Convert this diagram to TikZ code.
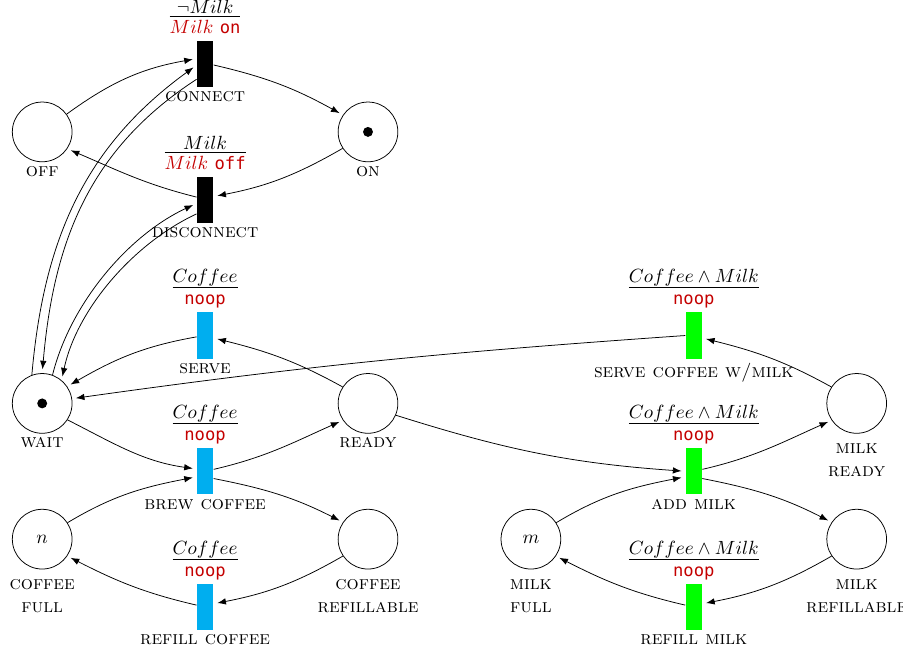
\documentclass[tikz,border=0pt]{standalone}
\usepackage{amsmath}
\usepackage{fontspec}
\setmonofont[Scale=0.9]{DejaVu Sans Mono}
\usetikzlibrary{arrows.meta,positioning}

\definecolor{actred}{RGB}{196,0,0}
\definecolor{coffeeblue}{RGB}{0,174,239}
\definecolor{milkgreen}{RGB}{0,255,0}

% guard over action
\newcommand{\guard}[2]{$\frac{\textstyle #1}{\textstyle\strut\textcolor{actred}{#2}}$}

\tikzset{
  place/.style={circle,draw,minimum size=1.1cm,inner sep=0pt},
  tokened/.style={path picture={\fill (path picture bounding box.center) circle (2.6pt);}},
  transition/.style={rectangle,minimum width=0.3cm,minimum height=0.85cm,inner sep=0pt},
  every label/.style={align=center,inner sep=2pt},
  guardlabel/.style={inner sep=0pt},
  flow/.style={-{Latex[length=4.5pt,width=3.4pt]},shorten >=2pt}
}

\begin{document}
\begin{tikzpicture}
\useasboundingbox (-0.777,1.179) rectangle (15.853,-10.81);

%% places
\node[place,label={below:\textsc{off}}] (off) at (0,-1.25) {};
\node[place,tokened,label={below:\textsc{on}}] (on) at (6,-1.25) {};
\node[place,tokened,label={below:\textsc{wait}}] (wait) at (0,-6.25) {};
\node[place,label={below:\textsc{ready}}] (ready) at (6,-6.25) {};
\node[place,label={below:\strut\textsc{coffee}\\\textsc{full}}] (cfull) at (0,-8.75) {$n$};
\node[place,label={below:\strut\textsc{coffee}\\\textsc{refillable}}] (crefill) at (6,-8.75) {};
\node[place,label={below:\strut\textsc{milk}\\\textsc{full}}] (mfull) at (9,-8.75) {$m$};
\node[place,label={below:\strut\textsc{milk}\\\textsc{ready}}] (mready) at (15,-6.25) {};
\node[place,label={below:\strut\textsc{milk}\\\textsc{refillable}}] (mrefill) at (15,-8.75) {};

%% transitions
\node[transition,fill=black,label={[guardlabel]above:\guard{\neg Milk}{Milk\ \texttt{on}}},label={below:\textsc{connect}}] (connect) at (3,0) {};
\node[transition,fill=black,label={[guardlabel]above:\guard{Milk}{Milk\ \texttt{off}}},label={below:\textsc{disconnect}}] (disconnect) at (3,-2.5) {};
\node[transition,fill=coffeeblue,label={[guardlabel]above:\guard{Coffee}{\texttt{noop}}},label={below:\textsc{serve}}] (serve) at (3,-5) {};
\node[transition,fill=coffeeblue,label={[guardlabel]above:\guard{Coffee}{\texttt{noop}}},label={below:\textsc{brew coffee}}] (brew) at (3,-7.5) {};
\node[transition,fill=coffeeblue,label={[guardlabel]above:\guard{Coffee}{\texttt{noop}}},label={below:\textsc{refill coffee}}] (refillc) at (3,-10) {};
\node[transition,fill=milkgreen,label={[guardlabel]above:\guard{Coffee\wedge Milk}{\texttt{noop}}},label={below:\textsc{serve coffee w/milk}}] (scwm) at (12,-5) {};
\node[transition,fill=milkgreen,label={[guardlabel]above:\guard{Coffee\wedge Milk}{\texttt{noop}}},label={below:\textsc{add milk}}] (addmilk) at (12,-7.5) {};
\node[transition,fill=milkgreen,label={[guardlabel]above:\guard{Coffee\wedge Milk}{\texttt{noop}}},label={below:\textsc{refill milk}}] (refillm) at (12,-10) {};

%% milk switch
\draw[flow] (off.36) to[out=36,in=190] ([yshift=2.8pt]connect.west);
\draw[flow] ([yshift=-0.5pt]connect.east) to[out=-13,in=151] (on.146);
\draw[flow] (on.213) to[out=210,in=11] ([yshift=1.7pt]disconnect.east);
\draw[flow] ([yshift=1.4pt]disconnect.west) to[out=166,in=-23] (off.-34);
\draw[flow] (wait.110) to[out=85,in=216] ([yshift=-0.6pt]connect.west);
\draw[flow] ([yshift=-8pt]connect.west) to[out=213,in=85] (wait.north);
\draw[flow] (wait.70) to[out=76,in=205,looseness=0.85] ([yshift=-1.9pt]disconnect.west);
\draw[flow] ([yshift=-7.4pt]disconnect.west) to[out=205,in=78,looseness=0.85] (wait.50);

%% serving
\draw[flow] (ready.147) to[out=151,in=-14] ([yshift=-1.3pt]serve.east);
\draw[flow] ([yshift=-0.7pt]serve.west) to[out=190,in=30] (wait.34);
\draw[flow] (scwm.west) to[out=184,in=8] (wait.9);
\draw[flow] (mready.147) to[out=151,in=-14] ([yshift=-1.3pt]scwm.east);

%% brewing
\draw[flow] (wait.-33) to[out=-27,in=172] ([yshift=1.2pt]brew.west);
\draw[flow] (cfull.33) to[out=31,in=191] ([yshift=-2.9pt]brew.west);
\draw[flow] ([yshift=1pt]brew.east) to[out=13,in=204] (ready.214);
\draw[flow] ([yshift=-3.8pt]brew.east) to[out=-11,in=153] (crefill.146);
\draw[flow] (ready.-23) to[out=-17.5,in=176] (addmilk.west);
\draw[flow] (mfull.33) to[out=31,in=191] ([yshift=-2.9pt]addmilk.west);
\draw[flow] ([yshift=1pt]addmilk.east) to[out=13,in=204] (mready.214);
\draw[flow] ([yshift=-3.8pt]addmilk.east) to[out=-11,in=153] (mrefill.146);

%% refilling
\draw[flow] (crefill.214) to[out=210,in=11] ([yshift=1.7pt]refillc.east);
\draw[flow] ([yshift=1pt]refillc.west) to[out=167,in=-27] (cfull.-34);
\draw[flow] (mrefill.214) to[out=210,in=11] ([yshift=1.7pt]refillm.east);
\draw[flow] ([yshift=1pt]refillm.west) to[out=167,in=-27] (mfull.-34);
\end{tikzpicture}
\end{document}
